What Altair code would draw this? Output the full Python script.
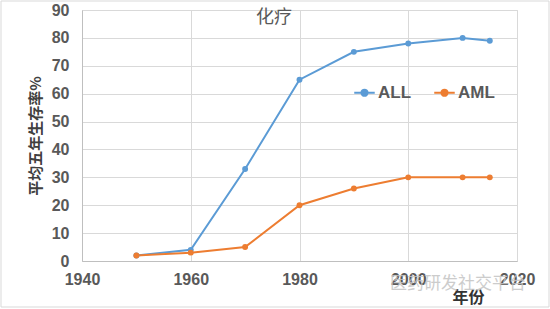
import altair as alt
import pandas as pd

years = [1950, 1960, 1970, 1980, 1990, 2000, 2010, 2015]
all_vals = [2, 4, 33, 65, 75, 78, 80, 79]
aml_vals = [2, 3, 5, 20, 26, 30, 30, 30]
series = ["ALL", "AML"]
colors = ["#5B9BD5", "#ED7D31"]

rows = []
for y, a, m in zip(years, all_vals, aml_vals):
    rows.append({"year": y, "value": a, "series": "ALL"})
    rows.append({"year": y, "value": m, "series": "AML"})
df = pd.DataFrame(rows)

FONT = "Liberation Sans"
CJK = "Noto Sans CJK SC"
GRAY = "#595959"

sym = "M-1,0H1M0.3,0A0.3,0.3 0 1,1 -0.3,0A0.3,0.3 0 1,1 0.3,0Z"

lines = alt.Chart(df).mark_line(strokeWidth=2, point=alt.OverlayMarkDef(filled=True, size=35)).encode(
    x=alt.X("year:Q", scale=alt.Scale(domain=[1940, 2020], nice=False),
            axis=alt.Axis(values=[1940, 1960, 1980, 2000, 2020], format="d", title="年份",
                          titleX=370, titleY=36, titleBaseline="middle", titleAnchor="start",
                          titleFont=CJK, titleFontSize=16, titleFontWeight="bold", titleColor="#333333",
                          labelFont=FONT, labelFontSize=16, labelFontWeight="bold", labelColor=GRAY,
                          labelPadding=10, labelFlush=False, tickSize=0,
                          domainColor="#BFBFBF", gridColor="#D9D9D9")),
    y=alt.Y("value:Q", scale=alt.Scale(domain=[0, 90], nice=False),
            axis=alt.Axis(values=list(range(0, 91, 10)), title="平均五年生存率%",
                          titleFont=CJK, titleFontSize=15, titleFontWeight="bold", titleColor="#404040",
                          titlePadding=8,
                          labelFont=FONT, labelFontSize=16, labelFontWeight="bold", labelColor=GRAY,
                          labelPadding=13, tickSize=0, domainColor="#BFBFBF", gridColor="#D9D9D9")),
    color=alt.Color("series:N", scale=alt.Scale(domain=series, range=colors),
                    legend=alt.Legend(title=None, orient="none", legendX=271, legendY=71,
                                      direction="horizontal", symbolType=sym, symbolSize=420,
                                      symbolStrokeWidth=2, labelFont=FONT, labelFontSize=17,
                                      labelFontWeight="bold", labelColor=GRAY, columnPadding=18,
                                      labelOffset=2)),
)

watermark = alt.Chart(pd.DataFrame({"t": ["医药研发社交平台"]})).mark_text(
    font=CJK, fontSize=17, color="#C4C4C4", align="left", baseline="middle", opacity=0.85
).encode(x=alt.value(308), y=alt.value(274), text="t:N")

frame = alt.Chart(pd.DataFrame({"k": [0]})).mark_rect(
    fill=None, stroke="#D9D9D9", strokeWidth=1
).encode(x=alt.value(-81), x2=alt.value(467), y=alt.value(-9), y2=alt.value(297))

chart = alt.layer(frame, lines, watermark).properties(
    width=435, height=251,
    title=alt.TitleParams("化疗", font=CJK, fontSize=18, fontWeight="normal", color=GRAY,
                          anchor="start", frame="group", dx=174, dy=26, baseline="top", offset=0),
    padding={"left": 82, "top": 10, "right": 33, "bottom": 48},
    autosize=alt.AutoSizeParams(type="none"),
).configure_view(stroke=None).configure(background="white")

chart.save("out.html", embed_options={"renderer": "svg", "actions": False})
